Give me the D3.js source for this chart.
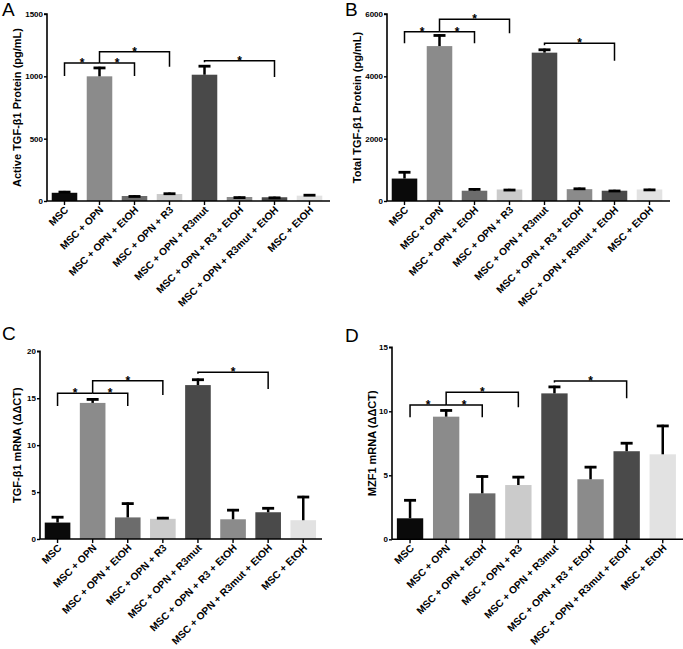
<!DOCTYPE html>
<html>
<head>
<meta charset="utf-8">
<script src="https://cdn.jsdelivr.net/npm/d3@7"></script>
<style>
  html, body { margin: 0; padding: 0; background: #fff; }
  svg { display: block; font-family: Arial, "Liberation Sans", Helvetica, sans-serif; }
</style>
</head>
<body>
<svg id="chart" width="683" height="649"></svg>
<script>
// ---------- data ----------
const categories = [
  "MSC", "MSC + OPN", "MSC + OPN + EtOH", "MSC + OPN + R3", "MSC + OPN + R3mut",
  "MSC + OPN + R3 + EtOH", "MSC + OPN + R3mut + EtOH", "MSC + EtOH"
];

const activeTgfMean = [66, 1000, 40, 56, 1013, 32, 30, 43];
const activeTgfErr  = [15, 77, 6, 12, 78, 5, 5, 13];

const totalTgfMean = [720, 4970, 330, 370, 4760, 380, 330, 370];
const totalTgfErr  = [240, 380, 80, 20, 130, 50, 30, 25];

const tgfMrnaMean = [1.75, 14.5, 2.3, 2.15, 16.4, 2.1, 2.85, 2.0];
const tgfMrnaErr  = [0.7, 0.5, 1.6, 0.2, 0.7, 1.1, 0.55, 2.6];

const mzf1Mean = [1.64, 9.58, 3.59, 4.24, 11.4, 4.69, 6.88, 6.64];
const mzf1Err  = [1.5, 0.58, 1.41, 0.71, 0.6, 1.04, 0.72, 2.31];

const activeTicks = [0, 500, 1000, 1500];
const totalTicks  = [0, 2000, 4000, 6000];
const tgfMrnaTicks = [0, 5, 10, 15, 20];
const mzf1Ticks   = [0, 5, 10, 15];

// significance brackets: [fromIndex, toIndex, level, leftEnd, rightEnd, showStar]
const activeBrackets = [
  [0, 1, 1107, 1003, 1107, 1], [1, 2, 1107, 1107, 1003, 1],
  [1, 3, 1197, 1107, 1077, 1], [4, 6, 1125, 1112, 995, 1]
];
const totalBrackets = [
  [0, 1, 5432, 5060, 5432, 1], [1, 2, 5432, 5432, 5060, 1],
  [1, 3, 5830, 5432, 5380, 1], [4, 6, 5060, 5000, 4500, 1]
];
const tgfMrnaBrackets = [
  [0, 1, 15.52, 14.17, 15.52, 1], [1, 2, 15.52, 15.52, 14.17, 1],
  [1, 3, 16.87, 15.52, 15.34, 1], [4, 6, 17.76, 17.6, 15.98, 1]
];
const mzf1Brackets = [
  [0, 1, 10.49, 9.53, 10.49, 1], [1, 2, 10.49, 10.49, 9.53, 1],
  [1, 3, 11.48, 10.49, 10.31, 1], [4, 6, 12.37, 12.25, 11.02, 1]
];

// ---------- styles ----------
const barColors = ["#0a0a0a", "#8b8b8b", "#6c6c6c", "#cbcbcb", "#494949", "#8b8b8b", "#4a4a4a", "#e2e2e2"];

const panels = [
  { letter: "A", lx: 2, ly: 16, title: "Active TGF-\u03b21 Protein (pg/mL)", tx: 17,
    x0: 47, x1: 327, axisEnd: 330, y0: 201, y1: 14, max: 1500,
    mean: activeTgfMean, err: activeTgfErr, ticks: activeTicks, brackets: activeBrackets },
  { letter: "B", lx: 345, ly: 16, title: "Total TGF-\u03b21 Protein (pg/mL)", tx: 357,
    x0: 387, x1: 667, axisEnd: 670, y0: 201, y1: 14, max: 6000,
    mean: totalTgfMean, err: totalTgfErr, ticks: totalTicks, brackets: totalBrackets },
  { letter: "C", lx: 2, ly: 340, title: "TGF-\u03b21 mRNA (\u0394\u0394CT)", tx: 17,
    x0: 40, x1: 320.8, axisEnd: 322, y0: 539, y1: 351.3, max: 20,
    mean: tgfMrnaMean, err: tgfMrnaErr, ticks: tgfMrnaTicks, brackets: tgfMrnaBrackets },
  { letter: "D", lx: 345, ly: 342, title: "MZF1 mRNA (\u0394\u0394CT)", tx: 372,
    x0: 392, x1: 680.8, axisEnd: 683, y0: 539.3, y1: 347.3, max: 15,
    mean: mzf1Mean, err: mzf1Err, ticks: mzf1Ticks, brackets: mzf1Brackets }
];

const svg = d3.select("#chart");

panels.forEach(p => {
  const g = svg.append("g");
  const x = d3.scaleBand().domain(categories).range([p.x0, p.x1])
    .paddingInner(0.27).paddingOuter(0.135);
  const y = d3.scaleLinear().domain([0, p.max]).range([p.y0, p.y1]);
  const cx = i => x(categories[i]) + x.bandwidth() / 2;

  // panel letter
  g.append("text").attr("x", p.lx).attr("y", p.ly)
    .attr("font-size", 19).attr("fill", "#000").text(p.letter);

  // bars
  g.selectAll("rect.bar").data(p.mean).join("rect")
    .attr("class", "bar")
    .attr("x", (d, i) => x(categories[i]))
    .attr("width", x.bandwidth())
    .attr("y", d => y(d))
    .attr("height", d => p.y0 - y(d))
    .attr("fill", (d, i) => barColors[i]);

  // error bars (upper only)
  const capW = 12;
  p.mean.forEach((m, i) => {
    const top = y(m + p.err[i]);
    g.append("line").attr("x1", cx(i)).attr("x2", cx(i))
      .attr("y1", y(m)).attr("y2", top)
      .attr("stroke", "#000").attr("stroke-width", 2.5);
    g.append("line").attr("x1", cx(i) - capW / 2).attr("x2", cx(i) + capW / 2)
      .attr("y1", top + 1.2).attr("y2", top + 1.2)
      .attr("stroke", "#000").attr("stroke-width", 2.8);
  });

  // y axis
  const yAxis = d3.axisLeft(y).tickValues(p.ticks).tickSize(3).tickPadding(1)
    .tickFormat(d3.format("d"));
  const ya = g.append("g").attr("transform", `translate(${p.x0},0)`).call(yAxis);
  ya.select(".domain").attr("stroke-width", 1.6).attr("d", `M-3,${y(p.max)}H0V${p.y0}`);
  ya.selectAll(".tick line").attr("stroke-width", 1.4);
  ya.selectAll(".tick text").attr("font-size", 8).attr("font-weight", "bold")
    .attr("font-family", "Arial, 'Liberation Sans', sans-serif").attr("fill", "#000");

  // x axis
  const xAxis = d3.axisBottom(x).tickSize(4).tickFormat(() => "");
  const xa = g.append("g").attr("transform", `translate(0,${p.y0})`).call(xAxis);
  xa.select(".domain").attr("stroke-width", 1.6).attr("d", `M${p.x0},0H${p.axisEnd}`);
  xa.selectAll(".tick line").attr("stroke-width", 1.4);

  // x labels rotated
  g.selectAll("text.xl").data(categories).join("text")
    .attr("class", "xl")
    .attr("transform", (d, i) => `translate(${cx(i) + 2},${p.y0 + 7}) rotate(-45)`)
    .attr("text-anchor", "end").attr("dy", "0.35em")
    .attr("font-size", 10.2).attr("font-weight", "bold").attr("fill", "#000")
    .text(d => d);

  // y title
  g.append("text")
    .attr("transform", `translate(${p.tx},${(p.y0 + p.y1) / 2}) rotate(-90)`)
    .attr("text-anchor", "middle").attr("dy", "0.35em")
    .attr("font-size", 11).attr("font-weight", "bold").attr("fill", "#000")
    .text(p.title);

  // significance brackets
  p.brackets.forEach(b => {
    const [i, j, lvl, lEnd, rEnd, star] = b;
    const path = d3.path();
    path.moveTo(cx(i), y(lEnd));
    path.lineTo(cx(i), y(lvl));
    path.lineTo(cx(j), y(lvl));
    path.lineTo(cx(j), y(rEnd));
    g.append("path").attr("d", path.toString())
      .attr("fill", "none").attr("stroke", "#000").attr("stroke-width", 1.5);
    if (star) {
      g.append("text").attr("x", (cx(i) + cx(j)) / 2).attr("y", y(lvl) + 4)
        .attr("text-anchor", "middle").attr("font-size", 12).attr("font-weight", "bold")
        .attr("fill", "#000").text("*");
    }
  });
});
</script>
</body>
</html>
